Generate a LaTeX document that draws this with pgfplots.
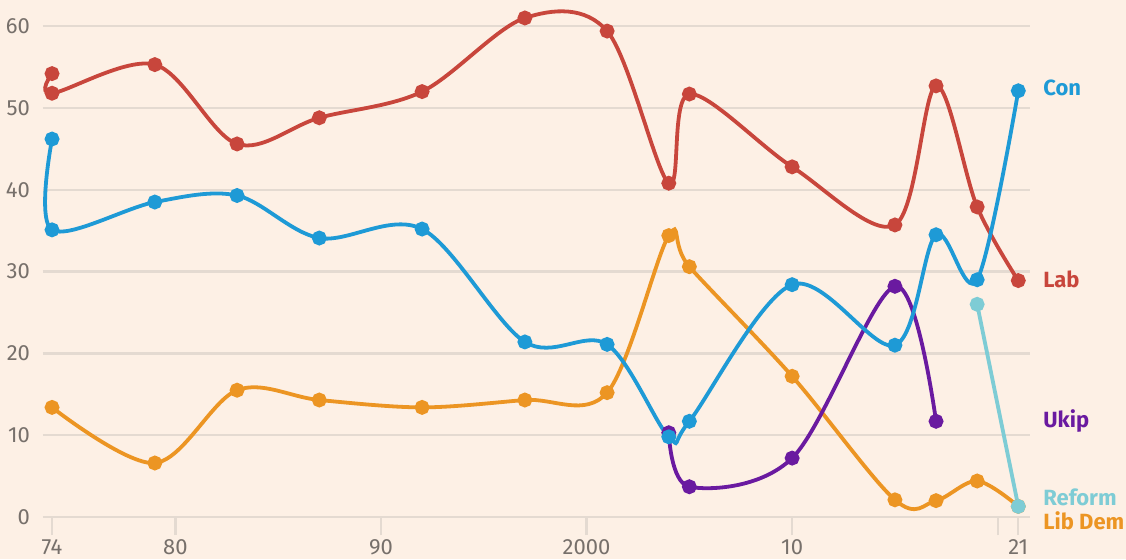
\documentclass[border=0pt]{standalone}
\usepackage{pgfplots}
\pgfplotsset{compat=1.18}
\usepackage{fontspec}
\setmainfont{Fira Sans}
\definecolor{bg}{HTML}{FDF0E5}
\definecolor{gridc}{HTML}{E4DAD1}
\definecolor{labc}{HTML}{77706B}
\definecolor{labc2}{HTML}{C8463C}
\definecolor{conc}{HTML}{1E9AD6}
\definecolor{ldc}{HTML}{EC9523}
\definecolor{ukipc}{HTML}{6A1AA0}
\definecolor{refc}{HTML}{7ECCD5}
\begin{document}
\begin{tikzpicture}
\fill[bg] (-21.5pt,-21pt) rectangle (541.5pt,258.5pt);
\begin{axis}[
  scale only axis, width=493.5pt, height=257.7pt,
  xmin=1973.56, xmax=2021.57, ymin=0, ymax=63,
  axis x line*=bottom, axis y line*=left,
  x axis line style={draw=none}, y axis line style={draw=none},
  xtick={1974,1980,1990,2000,2010,2020,2021},
  xticklabels={74,80,90,2000,10,,21},
  ytick={0,10,20,30,40,50,60},
  ymajorgrids, grid style={gridc, line width=1.2pt},
  xtick style={gridc, line width=1.2pt}, ytick style={draw=none},
  tick align=outside, major tick length=9pt,
  ticklabel style={font=\fontsize{11}{11}\selectfont, text=labc},
  /pgf/number format/assume math mode=true,
  yticklabel style={xshift=6pt},
  xticklabel style={yshift=1.2pt},
  clip=false,
  every axis plot/.append style={line width=1.9pt, mark=*, mark size=2.75pt, smooth, tension=0.55},
]
% Lib Dem
\addplot[ldc] coordinates {
(1974,13.4) (1979,6.6) (1983,15.5) (1987,14.3) (1992,13.4) (1997,14.3) (2001,15.2)
(2004,34.4) (2005,30.6) (2010,17.2) (2015,2.1) (2017,2.0) (2019,4.4) (2021,1.3)};
% Reform
\addplot[refc] coordinates {(2019,26.0) (2021,1.3)};
% Lab
\addplot[labc2] coordinates {
(1974,54.2) (1974,51.8) (1979,55.3) (1983,45.6) (1987,48.8) (1992,52.0) (1997,61.0)
(2001,59.4) (2004,40.8) (2005,51.7) (2010,42.8) (2015,35.7) (2017,52.7) (2019,37.9) (2021,28.9)};
% Ukip
\addplot[ukipc] coordinates {(2004,10.3) (2005,3.7) (2010,7.2) (2015,28.2) (2017,11.7)};
% Con
\addplot[conc] coordinates {
(1974,46.2) (1974,35.1) (1979,38.5) (1983,39.3) (1987,34.1) (1992,35.2) (1997,21.4)
(2001,21.1) (2004,9.8) (2005,11.7) (2010,28.4) (2015,21.0) (2017,34.5) (2019,29.0) (2021,52.1)};
\begin{scope}[font=\fontsize{11}{11}\selectfont\bfseries]
\node[anchor=west, text=conc, inner sep=0pt] at (axis cs:2022.2,52.4) {Con};
\node[anchor=west, text=labc2, inner sep=0pt] at (axis cs:2022.2,29.0) {Lab};
\node[anchor=west, text=ukipc, inner sep=0pt] at (axis cs:2022.2,11.7) {Ukip};
\node[anchor=west, text=refc, inner sep=0pt] at (axis cs:2022.2,2.4) {Reform};
\node[anchor=west, text=ldc, inner sep=0pt] at (axis cs:2022.2,-0.5) {Lib Dem};
\end{scope}
\end{axis}
\pgfresetboundingbox
\path[use as bounding box] (-21.5pt,-21pt) rectangle (541.5pt,258.5pt);
\end{tikzpicture}
\end{document}
